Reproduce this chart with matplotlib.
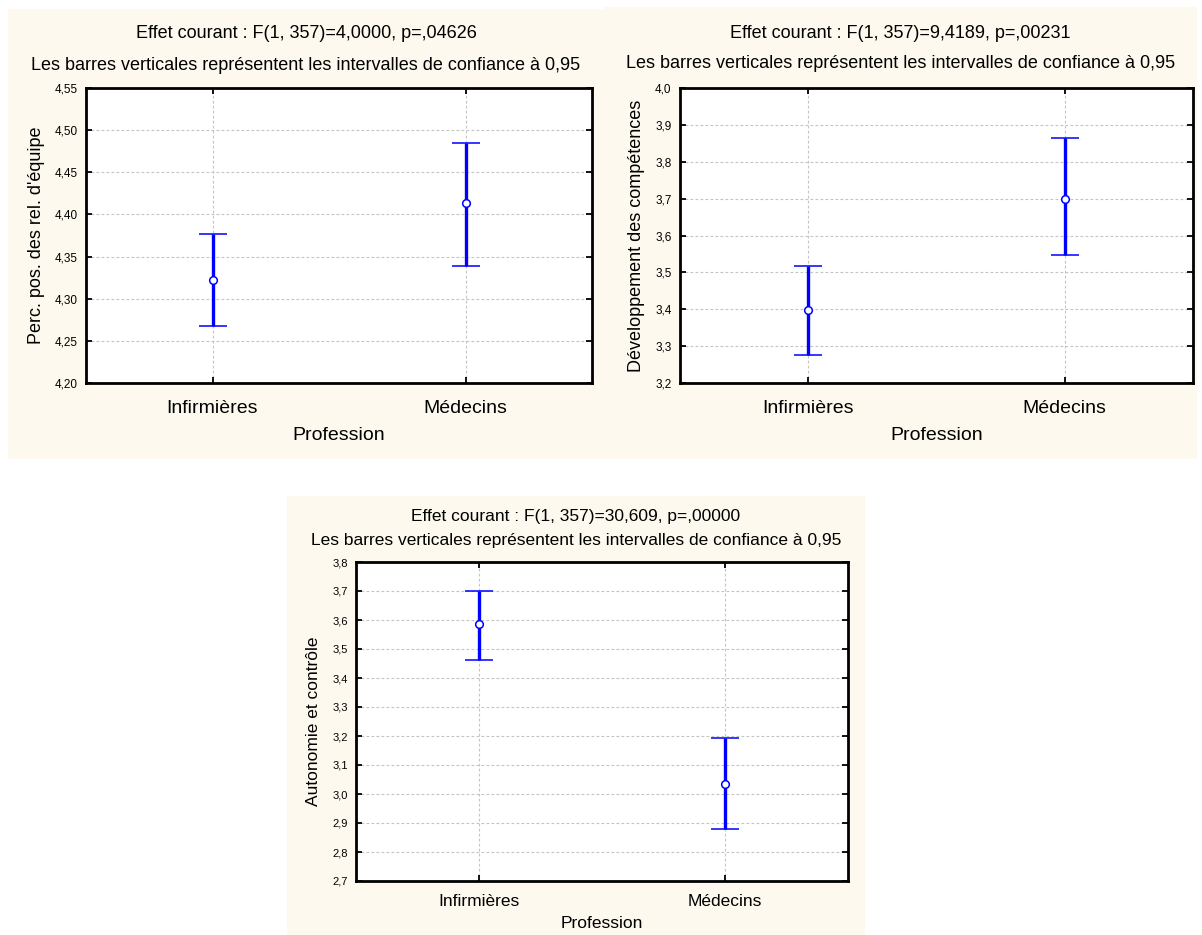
import numpy as np
import matplotlib
matplotlib.use('Agg')
import matplotlib.pyplot as plt
from matplotlib.patches import Rectangle
from matplotlib.ticker import FuncFormatter

# data (means and 95% CI bounds)
categories = ['Infirmières', 'Médecins']

equipe_mean = [4.322, 4.414]
equipe_low = [4.268, 4.339]
equipe_high = [4.377, 4.485]

comp_mean = [3.397, 3.700]
comp_low = [3.277, 3.548]
comp_high = [3.516, 3.865]

auto_mean = [3.586, 3.036]
auto_low = [3.462, 2.879]
auto_high = [3.701, 3.192]

titles = ['Effet courant : F(1, 357)=4,0000, p=,04626',
          'Effet courant : F(1, 357)=9,4189, p=,00231',
          'Effet courant : F(1, 357)=30,609, p=,00000']
subtitle = 'Les barres verticales représentent les intervalles de confiance à 0,95'
ylabels = ["Perc. pos. des rel. d'équipe", 'Développement des compétences', 'Autonomie et contrôle']
xlabel = 'Profession'

W, H = 1202, 935
CREAM = '#fdf9ee'
BLUE = '#0000ff'
FONT = ['Liberation Sans', 'DejaVu Sans']

fig = plt.figure(figsize=(W / 100, H / 100), dpi=100, facecolor='white')


def fx(x):
    return x / W


def fy(y):
    return 1 - y / H


def add_panel(box, axbox, means, lows, highs, ylim, ystep, ydec, title, ylabel,
              sizes, ttl_y, ylab_x):
    # cream background behind one panel (pixel box: x0, y0, x1, y1)
    x0, y0, x1, y1 = box
    fig.add_artist(Rectangle((fx(x0), fy(y1)), fx(x1) - fx(x0), fy(y0) - fy(y1),
                             transform=fig.transFigure, facecolor=CREAM,
                             edgecolor='none', zorder=-10))
    a0, b0, a1, b1 = axbox
    ax = fig.add_axes([fx(a0), fy(b1), fx(a1) - fx(a0), fy(b0) - fy(b1)])
    ax.set_facecolor('white')

    means = np.array(means)
    err = [means - np.array(lows), np.array(highs) - means]
    xpos = np.arange(len(categories))
    ax.errorbar(xpos, means, yerr=err, fmt='o', color=BLUE, ecolor=BLUE,
                elinewidth=2.4, capsize=10, capthick=2.4, markersize=5.5,
                markerfacecolor='white', markeredgecolor=BLUE, markeredgewidth=1.1,
                zorder=3)

    ax.set_xlim(-0.5, 1.5)
    ax.set_ylim(*ylim)
    ax.set_yticks(np.arange(ylim[0], ylim[1] + ystep / 2, ystep))
    ax.yaxis.set_major_formatter(FuncFormatter(lambda v, p: f'{v:.{ydec}f}'.replace('.', ',')))
    ax.set_xticks(xpos)
    ax.set_xticklabels(categories, family=FONT, fontsize=sizes['xt'])
    for lab in ax.get_yticklabels():
        lab.set_family(FONT)
        lab.set_fontsize(sizes['yt'])

    ax.grid(True, color='#c4c4c4', linestyle=(0, (2.5, 2)), linewidth=0.8)
    ax.set_axisbelow(True)
    ax.tick_params(direction='in', length=4, width=1.3, top=True, right=True,
                   colors='black')
    ax.tick_params(axis='y', pad=6)
    ax.tick_params(axis='x', pad=sizes['xpad'])
    for s in ax.spines.values():
        s.set_linewidth(2)
        s.set_color('black')

    ax.set_xlabel(xlabel, family=FONT, fontsize=sizes['xl'], va='center')
    ax.xaxis.set_label_coords(0.5, -sizes['xl_off'] / (b1 - b0))
    ax.set_ylabel(ylabel, family=FONT, fontsize=sizes['yl'], va='center')
    ax.yaxis.set_label_coords((ylab_x - a0) / (a1 - a0), 0.5)

    cx = (x0 + x1) / 2
    fig.text(fx(cx), fy(ttl_y[0]), title, ha='center', va='center',
             family=FONT, fontsize=sizes['t'])
    fig.text(fx(cx), fy(ttl_y[1]), subtitle, ha='center', va='center',
             family=FONT, fontsize=sizes['t'])
    return ax


big = {'t': 13, 'xt': 14, 'yt': 8.5, 'xl': 14, 'yl': 13, 'xpad': 12, 'xl_off': 53}
small = {'t': 12.5, 'xt': 12.5, 'yt': 8, 'xl': 12.5, 'yl': 12.5, 'xpad': 9, 'xl_off': 42}

add_panel((8, 9, 604, 459), (86, 88, 592, 383), equipe_mean, equipe_low, equipe_high,
          (4.20, 4.55), 0.05, 2, titles[0], ylabels[0], big, (34, 65), 37)
add_panel((604, 7, 1197, 459), (680, 88, 1193, 383), comp_mean, comp_low, comp_high,
          (3.2, 4.0), 0.1, 1, titles[1], ylabels[1], big, (33, 63), 636)
add_panel((287, 496, 865, 935), (356, 562, 848, 881), auto_mean, auto_low, auto_high,
          (2.7, 3.8), 0.1, 1, titles[2], ylabels[2], small, (516, 540), 313)

fig.savefig('out.png', dpi=100, facecolor='white')
